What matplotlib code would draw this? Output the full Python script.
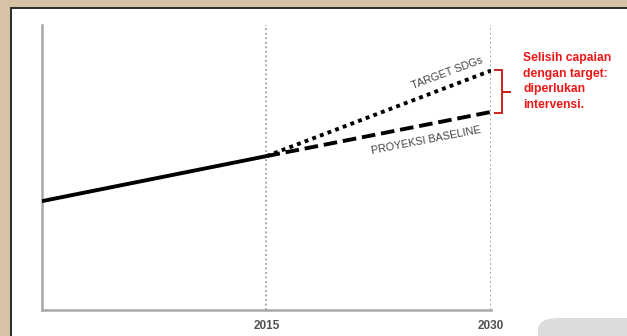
import matplotlib.pyplot as plt
from matplotlib.patches import Rectangle, FancyBboxPatch, PathPatch
from matplotlib.path import Path

# data
hist_years = [2000, 2015]
hist_vals = [38.2, 54.0]
proj_years = [2015, 2030]
target_vals = [54.0, 84.0]
baseline_vals = [54.0, 69.5]
tick_years = [2015, 2030]

W, H = 627, 336
fig = plt.figure(figsize=(W / 100, H / 100), dpi=100)
fig.patch.set_facecolor('#d6c3a6')

# white slide panel with dark edge
fig.patches.append(Rectangle((11 / W, -0.05), 1.1, (336 - 8) / H + 0.05, transform=fig.transFigure,
                             facecolor='white', edgecolor='#2a2a2a', linewidth=1.4, zorder=-3))
# grey rounded shape bottom-right
fig.patches.append(FancyBboxPatch((538 / W, -0.1), 0.3, (336 - 318) / H + 0.1,
                                  boxstyle='round,pad=0,rounding_size=0.035', transform=fig.transFigure,
                                  facecolor='#dcdcdc', edgecolor='none', zorder=-2))

ax = fig.add_axes([42 / W, 26 / H, (491 - 42) / W, 285 / H])
ax.set_facecolor('none')
ax.set_xlim(2000, 2030)
ax.set_ylim(0, 100)
for s in ['top', 'right']:
    ax.spines[s].set_visible(False)
for s in ['left', 'bottom']:
    ax.spines[s].set_color('#a8a8a8')
    ax.spines[s].set_linewidth(1.8)
ax.set_yticks([])
ax.set_xticks(tick_years)
ax.set_xticklabels([str(t) for t in tick_years], fontsize=8.5, color='#505050',
                   fontfamily='Liberation Sans', fontweight='bold')
ax.tick_params(axis='x', length=0, pad=7)

for t in tick_years:
    ax.axvline(t, color='#a0a0a0', linestyle=(0, (1, 1.5)), linewidth=1.3, zorder=1)

ax.plot(hist_years, hist_vals, color='black', linewidth=2.8, solid_capstyle='butt', zorder=3)
ax.plot(proj_years, target_vals, color='black', linewidth=2.8, linestyle=(0, (1, 1.1)), zorder=3)
ax.plot(proj_years, baseline_vals, color='black', linewidth=2.8, linestyle=(0, (3.5, 1.5)), zorder=3)

ax.text(2027.1, 83.2, 'TARGET SDGs', rotation=20.5, ha='center', va='center', fontsize=7.8,
        color='#444444', fontfamily='Liberation Sans', rotation_mode='anchor')
ax.text(2025.7, 59.6, 'PROYEKSI BASELINE', rotation=11, ha='center', va='center', fontsize=7.8,
        color='#444444', fontfamily='Liberation Sans', rotation_mode='anchor')

# red curly bracket (figure pixels, y from top)
def px(x, y):
    return (x / W, 1 - y / H)

top, bot, mid = 70, 113, 92
xl, xr, xt = 494, 502, 511
verts = [px(xl, top), px(xr, top), px(xr, mid), px(xt, mid), px(xr, mid), px(xr, bot), px(xl, bot)]
codes = [Path.MOVETO] + [Path.LINETO] * 6
fig.patches.append(PathPatch(Path(verts, codes), transform=fig.transFigure, fill=False,
                             edgecolor='#cc2222', linewidth=1.4, zorder=5))

fig.text(523 / W, 1 - 52 / H, 'Selisih capaian\ndengan target:\ndiperlukan\nintervensi.',
         ha='left', va='top', fontsize=8.7, color='#f01515', fontweight='bold',
         fontfamily='Liberation Sans', linespacing=1.4)

fig.savefig('out.png', dpi=100, facecolor=fig.get_facecolor())
